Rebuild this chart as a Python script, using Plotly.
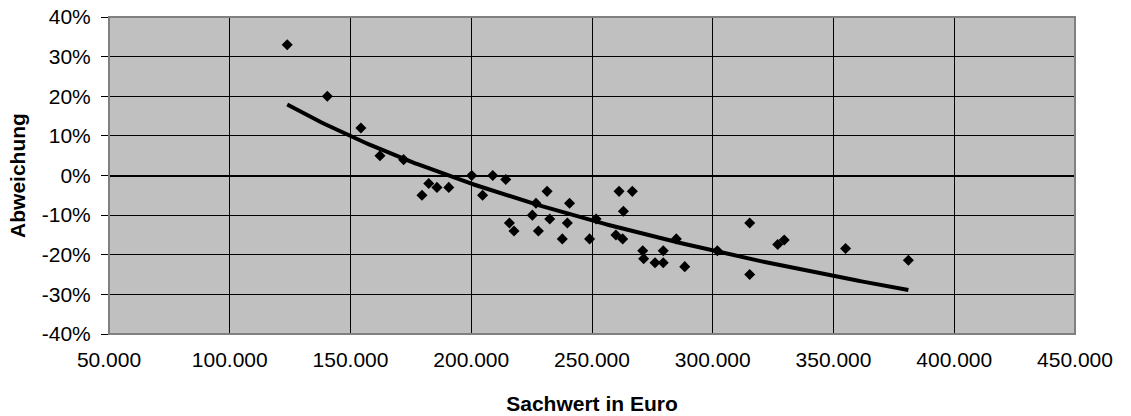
import numpy as np
import plotly.graph_objects as go

# Sachwert in Euro
sachwert = [123800, 140400, 154300, 162200, 172000, 179600, 182400, 185800, 190700,
            200200, 204700, 208900, 214300, 215800, 217700, 225300, 226800, 227800,
            231400, 232500, 237700, 239800, 240700, 249000, 251700, 259900, 261200,
            263000, 262700, 266700, 271000, 271400, 276100, 279500, 279500, 284900,
            288400, 301900, 315300, 315300, 326900, 329600, 355000, 381000]
# Abweichung in %
abweichung = [33, 20, 12, 5, 4, -5, -2, -3, -3,
              0, -5, 0, -1, -12, -14, -10, -7, -14,
              -4, -11, -16, -12, -7, -16, -11, -15, -4,
              -9, -16, -4, -19, -21, -22, -19, -22, -16,
              -23, -19, -12, -25, -17.4, -16.3, -18.4, -21.4]

x_tickvals = [50000, 100000, 150000, 200000, 250000, 300000, 350000, 400000, 450000]
x_ticktext = ["50.000", "100.000", "150.000", "200.000", "250.000", "300.000",
              "350.000", "400.000", "450.000"]
y_tickvals = [40, 30, 20, 10, 0, -10, -20, -30, -40]
y_ticktext = ["40%", "30%", "20%", "10%", "0%", "-10%", "-20%", "-30%", "-40%"]

# logarithmic trend line (least squares fit of the data, as in the spreadsheet)
xs = np.array(sachwert, dtype=float)
ys = np.array(abweichung, dtype=float)
b, a = np.polyfit(np.log(xs), ys, 1)
trend_x = np.linspace(xs.min(), xs.max(), 200)
trend_y = a + b * np.log(trend_x)

FONT = "Liberation Sans, Arial, sans-serif"

fig = go.Figure()
fig.add_trace(go.Scatter(
    x=sachwert, y=abweichung, mode="markers",
    marker=dict(symbol="diamond", size=8.5, color="black", line=dict(width=0)),
    showlegend=False, hoverinfo="skip"))
fig.add_trace(go.Scatter(
    x=trend_x, y=trend_y, mode="lines",
    line=dict(color="black", width=4),
    showlegend=False, hoverinfo="skip"))
# invisible helper trace so the secondary (zero-line) x axis is drawn
fig.add_trace(go.Scatter(x=[50000], y=[0], xaxis="x2", mode="markers",
                         marker=dict(opacity=0), showlegend=False, hoverinfo="skip"))

fig.update_layout(
    width=1131, height=416,
    margin=dict(l=109, r=56, t=17, b=82),
    paper_bgcolor="white", plot_bgcolor="#C0C0C0",
    font=dict(family=FONT, size=21, color="black"),
    xaxis=dict(
        range=[50000, 450000], tickvals=x_tickvals, ticktext=x_ticktext,
        showgrid=True, gridcolor="black", gridwidth=1,
        zeroline=False, showline=False, ticks="", ticklabelstandoff=11,
        automargin=False,
        title=dict(text="<b>Sachwert in Euro</b>", font=dict(size=21), standoff=26),
    ),
    xaxis2=dict(
        range=[50000, 450000], tickvals=x_tickvals, overlaying="x",
        anchor="free", position=0.5, side="bottom",
        showline=True, linecolor="black", linewidth=1,
        ticks="outside", ticklen=5, tickcolor="black", showticklabels=False,
        showgrid=False, zeroline=False, automargin=False,
    ),
    yaxis=dict(
        range=[-40, 40], tickvals=y_tickvals, ticktext=y_ticktext,
        showgrid=True, gridcolor="black", gridwidth=1,
        zeroline=False, showline=True, linecolor="black", linewidth=1,
        ticks="outside", ticklen=7, tickcolor="black", ticklabelstandoff=6,
        automargin=False,
        title=dict(text="<b>Abweichung</b>", font=dict(size=21), standoff=10),
    ),
    shapes=[dict(type="rect", xref="paper", yref="paper", x0=0, x1=1, y0=0, y1=1,
                 line=dict(color="#808080", width=2), layer="above")],
)

# remove the browser's default 8px body margin so the figure sits at the page origin
fig.write_html("out.html",
               config={"displayModeBar": False, "staticPlot": True},
               post_script="document.body.style.margin='0';document.body.style.padding='0';")
